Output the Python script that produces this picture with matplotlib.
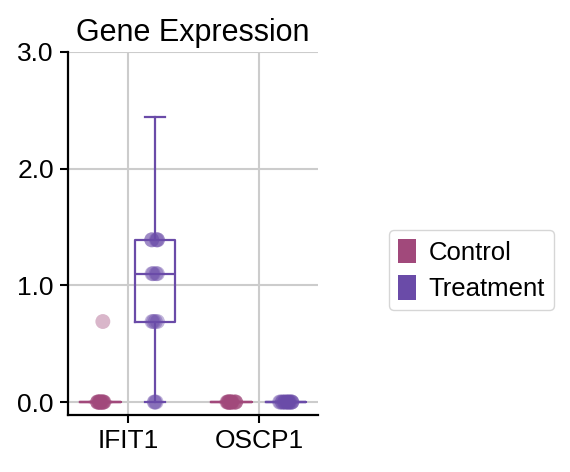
import numpy as np
import matplotlib
matplotlib.use("Agg")
import matplotlib.pyplot as plt
from matplotlib.patches import Patch

plt.rcParams["font.family"] = ["Liberation Sans", "DejaVu Sans"]

genes = ["IFIT1", "OSCP1"]
groups = ["Control", "Treatment"]
colors = {"Control": "#a1497b", "Treatment": "#6a4ba8"}

ifit1_control = [0.0] * 15 + [0.69]
ifit1_treatment = [0.0] * 3 + [0.69] * 4 + [1.1] * 4 + [1.39] * 5
oscp1_control = [0.0] * 16
oscp1_treatment = [0.0] * 16

data = {
    ("IFIT1", "Control"): ifit1_control,
    ("IFIT1", "Treatment"): ifit1_treatment,
    ("OSCP1", "Control"): oscp1_control,
    ("OSCP1", "Treatment"): oscp1_treatment,
}

fig = plt.figure(figsize=(5.7, 4.72), dpi=100)
ax = fig.add_axes([0.119, 0.121, 0.439, 0.769])

offsets = {"Control": -0.21, "Treatment": 0.205}
box_w = 0.31
rng = np.random.default_rng(5)

for gi, gene in enumerate(genes):
    for grp in groups:
        vals = np.array(data[(gene, grp)])
        pos = gi + offsets[grp]
        q1, med, q3 = np.percentile(vals, [25, 50, 75])
        iqr = q3 - q1
        stats = [{
            "med": med, "q1": q1, "q3": q3,
            "whislo": max(vals.min(), q1 - 1.5 * iqr),
            "whishi": q3 + 1.5 * iqr,
            "fliers": [],
        }]
        c = colors[grp]
        lw = 1.6
        ax.bxp(stats, positions=[pos], widths=box_w, showfliers=False,
               boxprops=dict(color=c, lw=lw),
               whiskerprops=dict(color=c, lw=lw),
               capprops=dict(color=c, lw=lw),
               medianprops=dict(color=c, lw=lw),
               zorder=2)
        spread = 0.05 if vals.std() == 0 else 0.025
        jitter = rng.uniform(-spread, spread, len(vals))
        ax.scatter(pos + jitter, vals, s=115, color=c, alpha=0.4,
                   edgecolor="none", zorder=3)

ax.set_xlim(-0.46, 1.45)
ax.set_ylim(-0.11, 3.0)
ax.set_xticks([0, 1])
ax.set_xticklabels(genes)
ax.set_yticks([0, 1, 2, 3])
ax.set_yticklabels(["0.0", "1.0", "2.0", "3.0"])
ax.tick_params(labelsize=19, length=6, width=1.5, pad=4)
ax.grid(True, color="#cccccc", lw=1.5)
ax.set_axisbelow(True)
for s in ["top", "right"]:
    ax.spines[s].set_visible(False)
ax.spines["left"].set_linewidth(1.6)
ax.spines["bottom"].set_linewidth(1.6)
ax.set_title("Gene Expression", fontsize=22, pad=8)

handles = [Patch(facecolor=colors[g], edgecolor="none", label=g) for g in groups]
fig.legend(handles=handles, loc="center left", bbox_to_anchor=(0.682, 0.428),
           fontsize=18.5, handlelength=0.7, handleheight=1.1, handletextpad=0.5,
           labelspacing=0.4, frameon=True, edgecolor="#cccccc", borderpad=0.35,
           borderaxespad=0)

fig.savefig("out.png", dpi=100)
